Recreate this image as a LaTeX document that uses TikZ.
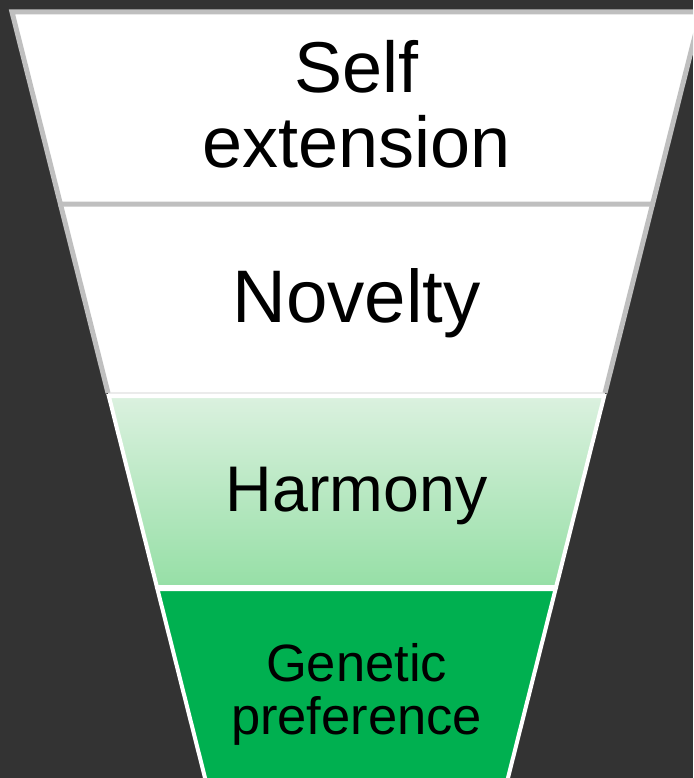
\documentclass[tikz,border=0pt]{standalone}
\usepackage{fontspec}
\setmainfont{Liberation Sans}
\usetikzlibrary{calc}

\definecolor{backdrop}{HTML}{333333}
\definecolor{rimgray}{HTML}{BFBFBF}
\definecolor{seamgray}{HTML}{EBEBEB}
\definecolor{leafgreen}{HTML}{00B050}
\definecolor{palegreen}{RGB}{219,241,223}
\definecolor{mintgreen}{RGB}{150,223,166}

\begin{document}
\begin{tikzpicture}[x=1pt,y=-1pt,line join=miter]

		\useasboundingbox (0,0) rectangle (693,778);
		\fill [backdrop] (0,0) rectangle (693,778);
		\clip (0,0) rectangle (693,778);

		% funnel sides: x = 12 + 0.252(y-12) and 701 - 0.252(y-12)
		\coordinate (A1) at (12,12) ;
		\coordinate (A2) at (701,12) ;
		\coordinate (B1) at (60.4,204) ;
		\coordinate (B2) at (652.6,204) ;
		\coordinate (C1) at (108.0,393) ;
		\coordinate (C2) at (605.0,393) ;
		\coordinate (D1) at (108.8,396) ;
		\coordinate (D2) at (604.2,396) ;
		\coordinate (E1) at (156.9,587) ;
		\coordinate (E2) at (556.1,587) ;
		\coordinate (F1) at (157.4,589) ;
		\coordinate (F2) at (555.6,589) ;
		\coordinate (G1) at (210.6,800) ;
		\coordinate (G2) at (502.4,800) ;

		% white bands
		\fill [white] (B1)--(B2)--(C2)--(C1)--cycle;
		\draw [seamgray, line width=2] (C1)--(C2);
		\draw [rimgray, line width=5] (B1)--(C1);
		\draw [rimgray, line width=5] (B2)--(C2);
		\draw [rimgray, line width=5, fill=white] (A1)--(A2)--(B2)--(B1)--cycle;

		% green bands
		\shadedraw [top color=palegreen, bottom color=mintgreen, draw=white, line width=4] (D1)--(D2)--(E2)--(E1)--cycle;
		\filldraw [fill=leafgreen, draw=white, line width=4] (F1)--(F2)--(G2)--(G1)--cycle;

		\node (self) [align=center, font=\fontsize{72}{75}\selectfont] at (356.5,104) {Self\\extension};
		\node (novelty) [anchor=base, font=\fontsize{74.5}{80}\selectfont] at (356.5,322) {Novelty};
		\node (harmony) [anchor=base, font=\fontsize{64.5}{70}\selectfont] at (356.5,511) {Harmony};
		\node (genetic) [align=center, font=\fontsize{52.5}{53}\selectfont] at (356.5,694) {Genetic\\preference};
		
\end{tikzpicture}
\end{document}
